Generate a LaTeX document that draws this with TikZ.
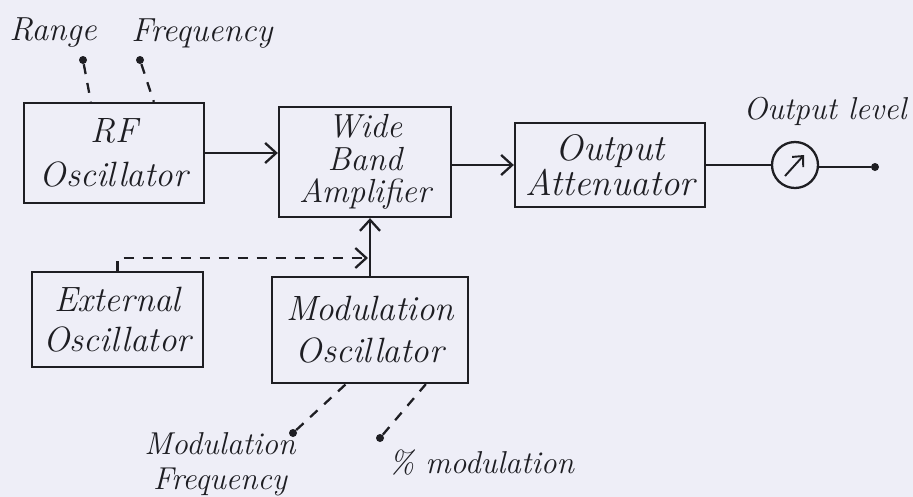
\documentclass[tikz,border=0pt]{standalone}
\usepackage{tikz}
\usetikzlibrary{positioning, arrows.meta}

\definecolor{paper}{RGB}{238,238,247}
\definecolor{ink}{RGB}{30,30,35}

\tikzset{
  blk/.style={draw=ink, text=ink, line width=1.3pt, align=center, inner sep=1pt,
    font=\fontsize{20}{24}\selectfont\itshape},
  lbl/.style={text=ink, align=center, inner sep=1pt, font=\fontsize{18}{20}\selectfont\itshape},
  knob/.style={circle, fill=ink, inner sep=0pt, minimum size=1.6mm},
  sig/.style={draw=ink, line width=1.3pt, -{Straight Barb[length=2.2mm, width=4mm]}},
  ctl/.style={draw=ink, line width=1.3pt, dash pattern=on 2mm off 1.8mm},
}

\begin{document}
\begin{tikzpicture}[x=0.2mm, y=-0.2mm]
    \fill[paper] (0,0) rectangle (913,497);
    \useasboundingbox (0,0) rectangle (913,497);

    % main chain
    \node[blk, minimum width=3.6cm, minimum height=2cm,
      font=\fontsize{20}{25}\selectfont\itshape] (rfosc) at (114,153) {RF\\Oscillator};
    \node[blk, minimum width=3.44cm, minimum height=2.2cm,
      font=\fontsize{19}{18.5}\selectfont\itshape] (wba) at (365,162) {Wide\\Band\\Amplifier};
    \node[blk, minimum width=3.8cm, minimum height=1.68cm,
      font=\fontsize{21}{20}\selectfont\itshape] (atten) at (610,165) {Output\\Attenuator};
    \node[circle, draw=ink, line width=1.3pt, minimum size=0.92cm] (meter) at (795,165) {};
    \node[knob] (outend) at (875,167) {};
    \node[lbl] (outlvl) at (825,111) {Output level};

    % lower blocks
    \node[blk, minimum width=3.42cm, minimum height=1.9cm,
      font=\fontsize{20}{23}\selectfont\itshape] (extosc) at (117.5,319.5) {External\\Oscillator};
    \node[blk, minimum width=3.92cm, minimum height=2.12cm] (modosc) at (370,330) {Modulation\\Oscillator};
    \coordinate (exttap) at (368,258);

    % knobs
    \node[knob] (rangeknob) at (83,60) {};
    \node[knob] (freqknob) at (140,60) {};
    \node[lbl, font=\fontsize{19}{20}\selectfont\itshape] (rangelbl) at (53,33) {Range};
    \node[lbl, font=\fontsize{19}{20}\selectfont\itshape] (freqlbl) at (202,34) {Frequency};
    \node[knob] (modfknob) at (293,433) {};
    \node[knob] (pctknob) at (380,438) {};
    \node[lbl] (modflbl) at (220,464) {Modulation\\Frequency};
    \node[lbl, right=0.05cm of pctknob, yshift=-0.5cm] (pctlbl) {\% modulation};

    % signal path
    \draw[sig] (rfosc.east) -- (rfosc.east -| wba.west);
    \draw[sig] (wba.east |- atten.west) -- (atten.west);
    \draw[draw=ink, line width=1.3pt] (atten.east) -- (meter.west);
    \draw[draw=ink, line width=1.3pt] (meter.east |- outend) -- (outend);
    \draw[draw=ink, line width=1.1pt, -{Straight Barb[length=1.6mm, width=3mm]}]
      ([shift={(-10,11)}]meter.center) -- ([shift={(9,-10)}]meter.center);
    \draw[sig] (modosc.north) -- (modosc.north |- wba.south);
    \draw[ctl, -{Straight Barb[length=2.2mm, width=4mm]}] (extosc.north) |- (exttap);

    % controls
    \draw[ctl] (rangeknob) -- ([xshift=1.36cm]rfosc.north west);
    \draw[ctl] (freqknob) -- ([xshift=2.62cm]rfosc.north west);
    \draw[ctl] (modfknob) -- ([xshift=1.5cm]modosc.south west);
    \draw[ctl] (pctknob) -- ([xshift=3.1cm]modosc.south west);
\end{tikzpicture}
\end{document}
